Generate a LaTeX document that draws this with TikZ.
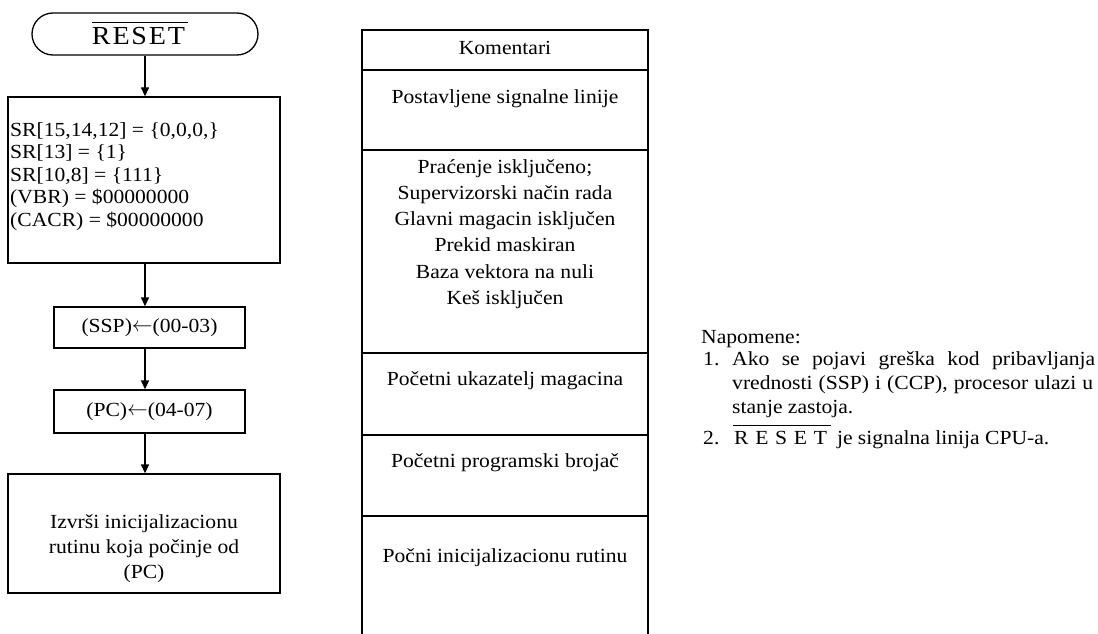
\documentclass[tikz,border=0pt]{standalone}
\usepackage{fontspec}
\setmainfont{Liberation Serif}[FakeStretch=1.08]
\usetikzlibrary{arrows.meta}

% text with a rule drawn above it: #1 gap, #2 text
\newcommand\overbar[2]{\leavevmode\vbox{\hrule height 1.1pt\kern#1\hbox{#2}}}
\newcommand\larrow{\raisebox{0.5pt}{$\leftarrow$}}

\tikzset{
  flowline/.style={line width=1.3pt, -{Triangle[length=9pt,width=8pt]}},
  stepbox/.style={draw, line width=1.3pt, rectangle, inner sep=0pt},
  termbox/.style={draw, line width=1.3pt, rectangle, rounded corners=21pt, inner sep=0pt},
  tableline/.style={line width=1.6pt},
  txt/.style={inner sep=0pt, font=\fontsize{20}{24}\selectfont},
  celltxt/.style={txt, anchor=base},
}

\begin{document}
\begin{tikzpicture}[x=1pt,y=-1pt]
\useasboundingbox (0,0) rectangle (1098,634);

% ---------------- flow chart ----------------
\node[termbox, minimum width=226pt, minimum height=42pt] (reset) at (145,34) {};
\node[inner sep=0pt, anchor=base, font=\fontsize{26}{30}\selectfont] (resettxt) at (140,45)
  {\overbar{5pt}{R\kern1.8pt E\kern1.8pt S\kern1.8pt E\kern1.8pt T\kern3pt}};

\node[stepbox, minimum width=272pt, minimum height=166pt] (init) at (144,180) {};
% multi-line text: the base anchor sits on the last line
\node[txt, anchor=base west, align=left, font=\fontsize{20}{22.5}\selectfont] (inittxt) at (10,226)
  {SR[15,14,12] = \{0,0,0,\}\\
   SR[13] = \{1\}\\
   SR[10,8] = \{111\}\\
   (VBR) = \$00000000\\
   (CACR) = \$00000000};

\node[stepbox, minimum width=191pt, minimum height=41pt, font=\fontsize{20}{24}\selectfont] (ssp) at (149.5,327.5) {(SSP)\larrow(00-03)};
\node[stepbox, minimum width=191pt, minimum height=43pt, font=\fontsize{20}{24}\selectfont] (pc) at (149.5,411.5) {(PC)\larrow(04-07)};

\node[stepbox, minimum width=272pt, minimum height=119pt] (run) at (144,533.5) {};
\node[txt, anchor=base, align=center, font=\fontsize{20}{25}\selectfont] (runtxt) at (144,578)
  {Izvrši inicijalizacionu\\ rutinu koja počinje od\\ (PC)};

\draw[flowline] (reset.south -| 145,0) -- (init.north -| 145,0);
\draw[flowline] (init.south -| 145,0) -- (ssp.north -| 145,0);
\draw[flowline] (ssp.south -| 145,0) -- (pc.north -| 145,0);
\draw[flowline] (pc.south -| 145,0) -- (run.north -| 145,0);

% ---------------- comment table ----------------
\draw[tableline] (362,634) -- (362,30) -- (648,30) -- (648,634);
\foreach \yy in {70,150,353,435,516}
  \draw[tableline] (362,\yy) -- (648,\yy);

\node[celltxt] (c0) at (505,55) {Komentari};
\node[celltxt] (c1) at (505,103) {Postavljene signalne linije};
\node[txt, anchor=base, align=center, font=\fontsize{20}{26.3}\selectfont] (c2) at (505,304.5)
  {Praćenje isključeno;\\ Supervizorski način rada\\ Glavni magacin isključen\\
   Prekid maskiran\\ Baza vektora na nuli\\ Keš isključen};
\node[celltxt] (c3) at (505,385) {Početni ukazatelj magacina};
\node[celltxt] (c4) at (505,467) {Početni programski brojač};
\node[celltxt] (c5) at (505,562) {Počni inicijalizacionu rutinu};

% ---------------- notes ----------------
\node[txt, anchor=base west] (notes) at (701,343) {Napomene:};
\node[txt, anchor=base west] (n1) at (703,365) {1.};
\node[txt, anchor=base west] (n1a) at (732,365) {\makebox[363pt][s]{Ako se pojavi greška kod pribavljanja}};
\node[txt, anchor=base west] (n1b) at (732,389) {\makebox[361pt][s]{vrednosti (SSP) i (CCP), procesor ulazi u}};
\node[txt, anchor=base west] (n1c) at (732,413) {stanje zastoja.};
\node[txt, anchor=base west] (n2) at (703,444) {2.};
\node[txt, anchor=base west] (n2a) at (733,444)
  {\overbar{5pt}{\kern1pt R\kern6.7pt E\kern6.7pt S\kern6.7pt E\kern6.7pt T\kern4pt}\kern6pt je signalna linija CPU-a.};

\end{tikzpicture}
\end{document}
